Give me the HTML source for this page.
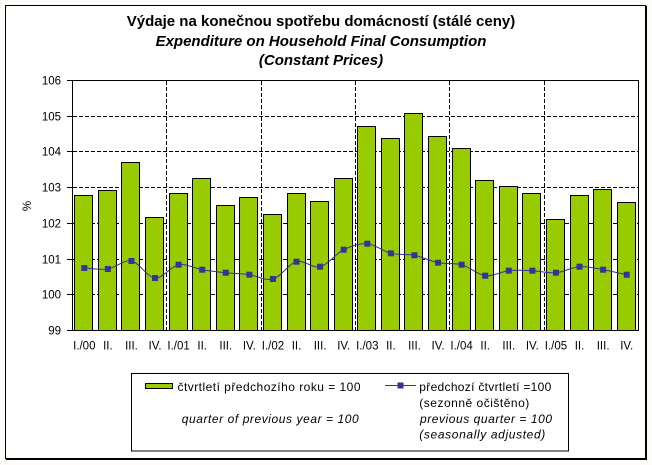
<!DOCTYPE html>
<html><head><meta charset="utf-8"><style>
html,body{margin:0;padding:0;background:#fdfcf9;}
svg{display:block;}
text{font-family:"Liberation Sans",Arial,sans-serif;fill:#000;}
</style></head><body>
<svg width="652" height="465" viewBox="0 0 652 465" xmlns="http://www.w3.org/2000/svg">
<rect x="0" y="0" width="652" height="465" fill="#fdfcf9"/>
<rect x="5.5" y="5.5" width="640" height="453" fill="#fff" stroke="#000" stroke-width="1"/>
<line x1="646.5" y1="6" x2="646.5" y2="460" stroke="#000"/>
<line x1="6" y1="459.5" x2="647" y2="459.5" stroke="#000"/>

<text x="321" y="26" text-anchor="middle" font-size="15" font-weight="bold">Výdaje na konečnou spotřebu domácností (stálé ceny)</text>
<text x="321" y="46" text-anchor="middle" font-size="15" font-weight="bold" font-style="italic">Expenditure on Household Final Consumption</text>
<text x="321" y="65" text-anchor="middle" font-size="15" font-weight="bold" font-style="italic">(Constant Prices)</text>

<!-- plot bg -->
<rect x="72.5" y="80.5" width="566" height="250" fill="#fff"/>
<!-- horizontal dashed gridlines -->
<g stroke="#000" stroke-width="1" stroke-dasharray="4 2">
<line x1="73" y1="116.5" x2="638" y2="116.5"/>
<line x1="73" y1="151.5" x2="638" y2="151.5"/>
<line x1="73" y1="187.5" x2="638" y2="187.5"/>
<line x1="73" y1="223.5" x2="638" y2="223.5"/>
<line x1="73" y1="259.5" x2="638" y2="259.5"/>
<line x1="73" y1="294.5" x2="638" y2="294.5"/>
<line x1="166.5" y1="81" x2="166.5" y2="330"/>
<line x1="261.5" y1="81" x2="261.5" y2="330"/>
<line x1="355.5" y1="81" x2="355.5" y2="330"/>
<line x1="449.5" y1="81" x2="449.5" y2="330"/>
<line x1="544.5" y1="81" x2="544.5" y2="330"/>
</g>
<!-- bars -->
<g fill="#99cc00" stroke="#000" stroke-width="1">
<rect x="74.5" y="195.5" width="18" height="135"/>
<rect x="98.5" y="190.5" width="18" height="140"/>
<rect x="121.5" y="162.5" width="18" height="168"/>
<rect x="145.5" y="217.5" width="18" height="113"/>
<rect x="169.5" y="193.5" width="18" height="137"/>
<rect x="192.5" y="178.5" width="18" height="152"/>
<rect x="216.5" y="205.5" width="18" height="125"/>
<rect x="239.5" y="197.5" width="18" height="133"/>
<rect x="263.5" y="214.5" width="18" height="116"/>
<rect x="287.5" y="193.5" width="18" height="137"/>
<rect x="310.5" y="201.5" width="18" height="129"/>
<rect x="334.5" y="178.5" width="18" height="152"/>
<rect x="357.5" y="126.5" width="18" height="204"/>
<rect x="381.5" y="138.5" width="18" height="192"/>
<rect x="404.5" y="113.5" width="18" height="217"/>
<rect x="428.5" y="136.5" width="18" height="194"/>
<rect x="452.5" y="148.5" width="18" height="182"/>
<rect x="475.5" y="180.5" width="18" height="150"/>
<rect x="499.5" y="186.5" width="18" height="144"/>
<rect x="522.5" y="193.5" width="18" height="137"/>
<rect x="546.5" y="219.5" width="18" height="111"/>
<rect x="570.5" y="195.5" width="18" height="135"/>
<rect x="593.5" y="189.5" width="18" height="141"/>
<rect x="617.5" y="202.5" width="18" height="128"/>
</g>
<!-- axes / border -->
<g stroke="#000" stroke-width="1" fill="none">
<line x1="72.5" y1="80" x2="72.5" y2="331"/>
<line x1="72" y1="330.5" x2="639" y2="330.5"/>
<line x1="72" y1="80.5" x2="639" y2="80.5"/>
<line x1="638.5" y1="80" x2="638.5" y2="331"/>
<line x1="67" y1="80.5" x2="72" y2="80.5"/>
<line x1="67" y1="116.5" x2="72" y2="116.5"/>
<line x1="67" y1="151.5" x2="72" y2="151.5"/>
<line x1="67" y1="187.5" x2="72" y2="187.5"/>
<line x1="67" y1="223.5" x2="72" y2="223.5"/>
<line x1="67" y1="259.5" x2="72" y2="259.5"/>
<line x1="67" y1="294.5" x2="72" y2="294.5"/>
<line x1="67" y1="330.5" x2="72" y2="330.5"/>
</g>
<!-- smoothed line -->
<path fill="none" stroke="#333399" stroke-width="1" d="M84.29,268 C88.22,268.17 100.02,270.17 107.88,269 C115.74,267.83 123.60,259.5 131.46,261 C139.32,262.5 147.18,277.38 155.04,278 C162.90,278.62 170.77,266.08 178.63,264.7 C186.49,263.32 194.35,268.37 202.21,269.7 C210.07,271.03 217.93,271.87 225.79,272.7 C233.65,273.53 241.52,273.65 249.38,274.7 C257.24,275.75 265.10,281.17 272.96,279 C280.82,276.83 288.68,263.75 296.54,261.7 C304.40,259.65 312.27,268.7 320.13,266.7 C327.99,264.7 335.85,253.53 343.71,249.7 C351.57,245.87 359.43,243.1 367.29,243.7 C375.15,244.3 383.02,251.37 390.88,253.3 C398.74,255.23 406.60,253.73 414.46,255.3 C422.32,256.87 430.18,261.13 438.04,262.7 C445.90,264.27 453.77,262.53 461.63,264.7 C469.49,266.87 477.35,274.7 485.21,275.7 C493.07,276.7 500.93,271.53 508.79,270.7 C516.65,269.87 524.52,270.37 532.38,270.7 C540.24,271.03 548.10,273.37 555.96,272.7 C563.82,272.03 571.68,267.2 579.54,266.7 C587.40,266.2 595.27,268.37 603.13,269.7 C610.99,271.03 622.78,273.87 626.71,274.7"/>
<!-- markers -->
<g fill="#333399">
<rect x="81.29" y="265" width="6" height="6"/>
<rect x="104.88" y="266" width="6" height="6"/>
<rect x="128.46" y="258" width="6" height="6"/>
<rect x="152.04" y="275" width="6" height="6"/>
<rect x="175.63" y="261.7" width="6" height="6"/>
<rect x="199.21" y="266.7" width="6" height="6"/>
<rect x="222.79" y="269.7" width="6" height="6"/>
<rect x="246.38" y="271.7" width="6" height="6"/>
<rect x="269.96" y="276" width="6" height="6"/>
<rect x="293.54" y="258.7" width="6" height="6"/>
<rect x="317.13" y="263.7" width="6" height="6"/>
<rect x="340.71" y="246.7" width="6" height="6"/>
<rect x="364.29" y="240.7" width="6" height="6"/>
<rect x="387.88" y="250.3" width="6" height="6"/>
<rect x="411.46" y="252.3" width="6" height="6"/>
<rect x="435.04" y="259.7" width="6" height="6"/>
<rect x="458.63" y="261.7" width="6" height="6"/>
<rect x="482.21" y="272.7" width="6" height="6"/>
<rect x="505.79" y="267.7" width="6" height="6"/>
<rect x="529.38" y="267.7" width="6" height="6"/>
<rect x="552.96" y="269.7" width="6" height="6"/>
<rect x="576.54" y="263.7" width="6" height="6"/>
<rect x="600.13" y="266.7" width="6" height="6"/>
<rect x="623.71" y="271.7" width="6" height="6"/>
</g>
<!-- y labels -->
<g font-size="11.5" text-anchor="end">
<text x="61" y="84.5">106</text>
<text x="61" y="120.5">105</text>
<text x="61" y="155.5">104</text>
<text x="61" y="191.5">103</text>
<text x="61" y="227.5">102</text>
<text x="61" y="263.5">101</text>
<text x="61" y="298.5">100</text>
<text x="61" y="334.5">99</text>
</g>
<text x="0" y="0" font-size="11.5" text-anchor="middle" transform="translate(31,206) rotate(-90)">%</text>
<!-- x labels -->
<g font-size="11.5" text-anchor="middle">
<text x="84.29" y="349.5">I./00</text>
<text x="107.88" y="349.5">II.</text>
<text x="131.46" y="349.5">III.</text>
<text x="155.04" y="349.5">IV.</text>
<text x="178.63" y="349.5">I./01</text>
<text x="202.21" y="349.5">II.</text>
<text x="225.79" y="349.5">III.</text>
<text x="249.38" y="349.5">IV.</text>
<text x="272.96" y="349.5">I./02</text>
<text x="296.54" y="349.5">II.</text>
<text x="320.13" y="349.5">III.</text>
<text x="343.71" y="349.5">IV.</text>
<text x="367.29" y="349.5">I./03</text>
<text x="390.88" y="349.5">II.</text>
<text x="414.46" y="349.5">III.</text>
<text x="438.04" y="349.5">IV.</text>
<text x="461.63" y="349.5">I./04</text>
<text x="485.21" y="349.5">II.</text>
<text x="508.79" y="349.5">III.</text>
<text x="532.38" y="349.5">IV.</text>
<text x="555.96" y="349.5">I./05</text>
<text x="579.54" y="349.5">II.</text>
<text x="603.13" y="349.5">III.</text>
<text x="626.71" y="349.5">IV.</text>
</g>
<!-- legend -->
<rect x="131.5" y="373.5" width="437" height="77.5" fill="#fff" stroke="#000" stroke-width="1"/>
<rect x="145.5" y="383.5" width="27" height="5" fill="#99cc00" stroke="#000" stroke-width="1"/>
<line x1="385" y1="385.5" x2="416" y2="385.5" stroke="#333399" stroke-width="1"/>
<rect x="397.5" y="382.5" width="6" height="6" fill="#333399"/>
<g font-size="12">
<text x="177.5" y="391" textLength="183" lengthAdjust="spacing">čtvrtletí předchozího roku = 100</text>
<text x="181.7" y="423" font-style="italic" textLength="177" lengthAdjust="spacing">quarter of previous year = 100</text>
<text x="419.3" y="391" textLength="132" lengthAdjust="spacing">předchozí čtvrtletí =100</text>
<text x="419.3" y="407" textLength="110" lengthAdjust="spacing">(sezonně očištěno)</text>
<text x="420" y="423" font-style="italic" textLength="132" lengthAdjust="spacing">previous quarter = 100</text>
<text x="419.3" y="438.5" font-style="italic" textLength="126" lengthAdjust="spacing">(seasonally adjusted)</text>
</g>
</svg>
</body></html>
